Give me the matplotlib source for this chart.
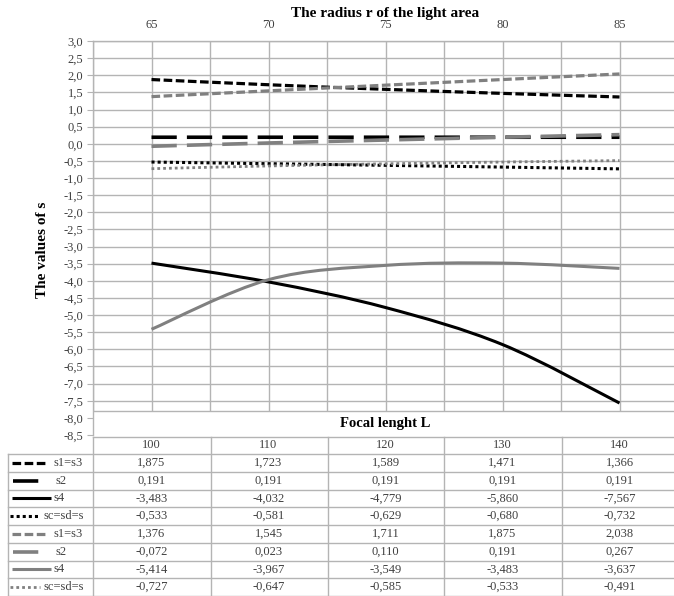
import numpy as np
import matplotlib
matplotlib.use("Agg")
from matplotlib import pyplot as plt
from matplotlib.path import Path
from matplotlib.patches import PathPatch, Rectangle
from matplotlib.lines import Line2D
import matplotlib.transforms as mtransforms

# data
radius = [65, 70, 75, 80, 85]
focal = [100, 110, 120, 130, 140]
names = ["s1=s3", "s2", "s4", "sc=sd=s", "s1=s3", "s2", "s4", "sc=sd=s"]
s1_black = [1.875, 1.723, 1.589, 1.471, 1.366]
s2_black = [0.191, 0.191, 0.191, 0.191, 0.191]
s4_black = [-3.483, -4.032, -4.779, -5.860, -7.567]
sc_black = [-0.533, -0.581, -0.629, -0.680, -0.732]
s1_gray = [1.376, 1.545, 1.711, 1.875, 2.038]
s2_gray = [-0.072, 0.023, 0.110, 0.191, 0.267]
s4_gray = [-5.414, -3.967, -3.549, -3.483, -3.637]
sc_gray = [-0.727, -0.647, -0.585, -0.533, -0.491]
series = [s1_black, s2_black, s4_black, sc_black, s1_gray, s2_gray, s4_gray, sc_gray]

BLACK = "#000000"
GRAY = "#808080"
GRID = "#b4b4b4"
SERIF = "Liberation Serif"

# line styles: (color, linewidth, dashes or None)
styles = [
    (BLACK, 2.3, (2.7, 1.1)),
    (BLACK, 2.6, (7.0, 2.8)),
    (BLACK, 2.2, None),
    (BLACK, 2.2, (1.0, 1.0)),
    (GRAY, 2.3, (2.7, 1.1)),
    (GRAY, 2.6, (7.0, 2.8)),
    (GRAY, 2.2, None),
    (GRAY, 2.0, (1.0, 1.1)),
]

W, H = 674, 596
fig = plt.figure(figsize=(W / 100, H / 100), dpi=100)
fx = lambda px: px / W
fy = lambda py: 1 - py / H


def smooth_path(xs, ys):
    # Excel-like smoothed line: cubic Bezier through the data points
    pts = np.column_stack([xs, ys]).astype(float)
    ext = np.vstack([pts[0], pts, pts[-1]])
    verts = [pts[0]]
    codes = [Path.MOVETO]
    for i in range(len(pts) - 1):
        p0, p1, p2, p3 = ext[i], ext[i + 1], ext[i + 2], ext[i + 3]
        verts += [p1 + (p2 - p0) / 6, p2 - (p3 - p1) / 6, p2]
        codes += [Path.CURVE4] * 3
    return Path(verts, codes)


ax = fig.add_axes([fx(93), fy(435), fx(678 - 93), (435 - 41) / H])
ax.set_xlim(62.5, 87.5)
ax.set_ylim(-8.5, 3.0)

yt = np.arange(-8.5, 3.01, 0.5)
ax.set_yticks(yt)
ax.set_yticklabels([f"{v:.1f}".replace(".", ",") for v in yt], fontsize=9, family=SERIF, color="#404040")
ax.tick_params(axis="y", length=4, width=0.8, color=GRID, pad=3)

ax.xaxis.tick_top()
ax.set_xticks(radius)
ax.set_xticks([62.5 + 2.5 * k for k in range(0, 11, 2)], minor=True)
ax.set_xticklabels([str(r) for r in radius], fontsize=9, family=SERIF, color="#404040")
ax.tick_params(axis="x", which="both", length=0, pad=7)

ax.grid(True, which="both", color=GRID, lw=1.0)
ax.set_axisbelow(True)
for side in ["right", "bottom"]:
    ax.spines[side].set_visible(False)
for side in ["left", "top"]:
    ax.spines[side].set_color(GRID)
    ax.spines[side].set_linewidth(1.0)

# blank band under the plot area (where Excel puts the category title)
ax.add_patch(Rectangle((0, -8.5), 1, 0.7, transform=mtransforms.blended_transform_factory(ax.transAxes, ax.transData),
                       facecolor="white", edgecolor="none", zorder=1.5))
ax.axhline(-7.8, color=GRID, lw=1.0, zorder=1.6)

for vals, (col, lw, dash) in zip(series, styles):
    ls = "-" if dash is None else (0, dash)
    ax.add_patch(PathPatch(smooth_path(radius, vals), fill=False, edgecolor=col, lw=lw,
                           linestyle=ls, capstyle="butt", joinstyle="round", zorder=3))

fig.text(fx(385), fy(13), "The radius r of the light area", ha="center", va="center",
         fontsize=11, fontweight="bold", family=SERIF)
fig.text(fx(42), fy(250), "The values of s", ha="center", va="center", rotation=90,
         fontsize=11, fontweight="bold", family=SERIF)
fig.text(fx(385), fy(423), "Focal lenght L", ha="center", va="center",
         fontsize=10.5, fontweight="bold", family=SERIF)

# data table
tr = mtransforms.blended_transform_factory(ax.transData, fig.transFigure)
top, head_bot, row_h = 437, 454, 17.75
row_edges = [head_bot + row_h * k for k in range(len(series) + 1)]
for y in [top] + row_edges:
    x0 = 93 if y == top else 8
    fig.add_artist(Line2D([fx(x0), fx(680)], [fy(y), fy(y)], color=GRID, lw=1.0))
for x in [93, 211, 328, 444, 562]:
    fig.add_artist(Line2D([fx(x), fx(x)], [fy(top), fy(row_edges[-1])], color=GRID, lw=1.0))
fig.add_artist(Line2D([fx(8), fx(8)], [fy(head_bot), fy(row_edges[-1])], color=GRID, lw=1.0))

for xv, lab in zip(radius, focal):
    ax.text(xv, fy((top + head_bot) / 2), str(lab), transform=tr, ha="center", va="center",
            fontsize=9, family=SERIF, color="#404040")

key_pos = [(12, 47, 53), (13, 40, 55), (12, 51, 53), (10, 40, 43)] * 2
for i, (vals, (col, lw, dash), name) in enumerate(zip(series, styles, names)):
    yc = fy(row_edges[i] + row_h / 2)
    k0, k1, tx = key_pos[i]
    ls = "-" if dash is None else (0, dash)
    fig.add_artist(Line2D([fx(k0), fx(k1)], [yc, yc], color=col, lw=lw, linestyle=ls,
                          dash_capstyle="butt", solid_capstyle="butt"))
    fig.text(fx(tx), yc, name, ha="left", va="center", fontsize=9, family=SERIF, color="#404040")
    for xv, v in zip(radius, vals):
        ax.text(xv, yc, f"{v:.3f}".replace(".", ","), transform=tr, ha="center", va="center",
                fontsize=9, family=SERIF, color="#404040")

fig.savefig("out.png", dpi=100)
